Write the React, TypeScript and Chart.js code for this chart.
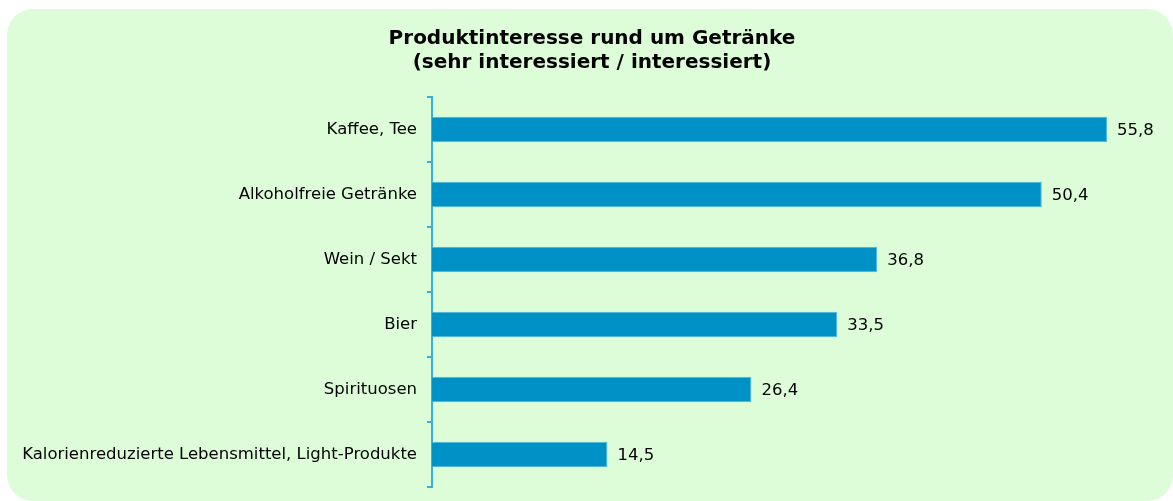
import React, { useEffect, useRef } from "react";
import { Chart, registerables } from "chart.js";

Chart.register(...registerables);

const titleLines = ["Produktinteresse rund um Getränke", "(sehr interessiert / interessiert)"];
const categories = [
  "Kaffee, Tee",
  "Alkoholfreie Getränke",
  "Wein / Sekt",
  "Bier",
  "Spirituosen",
  "Kalorienreduzierte Lebensmittel, Light-Produkte",
];
const values = [55.8, 50.4, 36.8, 33.5, 26.4, 14.5];
const axisMax = 60.75;

const FONT = "'DejaVu Sans', Verdana, sans-serif";

const valueLabelPlugin = {
  id: "valueLabels",
  afterDatasetsDraw(chart: any) {
    const ctx = chart.ctx;
    const meta = chart.getDatasetMeta(0);
    ctx.save();
    ctx.font = `16.5px ${FONT}`;
    ctx.fillStyle = "#000";
    ctx.textAlign = "left";
    ctx.textBaseline = "middle";
    meta.data.forEach((bar: any, i: number) => {
      const v = chart.data.datasets[0].data[i] as number;
      ctx.fillText(v.toFixed(1).replace(".", ","), bar.x + 10, bar.y + 1);
    });
    ctx.restore();
  },
};

export default function App() {
  const ref = useRef<HTMLCanvasElement | null>(null);
  useEffect(() => {
    if (!ref.current) return;
    const chart = new Chart(ref.current, {
      type: "bar",
      data: {
        labels: categories,
        datasets: [
          {
            data: values,
            backgroundColor: "#0091c6",
            borderColor: "#4bb6e2",
            borderWidth: 1,
            categoryPercentage: 1,
            barPercentage: 0.39,
          },
        ],
      },
      options: {
        indexAxis: "y",
        animation: false,
        responsive: true,
        maintainAspectRatio: false,
        layout: { padding: { left: 10, right: 6, top: 0, bottom: 14 } },
        plugins: {
          legend: { display: false },
          tooltip: { enabled: false },
          title: {
            display: true,
            text: titleLines,
            color: "#000",
            font: { family: FONT, size: 20, weight: "bold", lineHeight: 1.2 },
            padding: { top: 18, bottom: 22 },
          },
        },
        scales: {
          x: { display: false, min: 0, max: axisMax },
          y: {
            afterFit(scale: any) {
              scale.width = 415;
              scale.paddingTop = 0;
              scale.paddingBottom = 0;
            },
            grid: {
              offset: true,
              drawOnChartArea: false,
              drawTicks: true,
              tickLength: 5,
              color: "#36aee0",
              lineWidth: 2,
            },
            border: { display: true, color: "#36aee0", width: 2 },
            ticks: {
              color: "#000",
              padding: 10,
              font: { family: FONT, size: 16.5 },
            },
          },
        },
      },
      plugins: [valueLabelPlugin],
    });
    return () => chart.destroy();
  }, []);

  return (
    <div
      style={{
        position: "absolute",
        left: 7,
        top: 9,
        width: 1166,
        height: 492,
        background: "#ddfdd8",
        borderRadius: 26,
      }}
    >
      <canvas ref={ref} />
    </div>
  );
}
